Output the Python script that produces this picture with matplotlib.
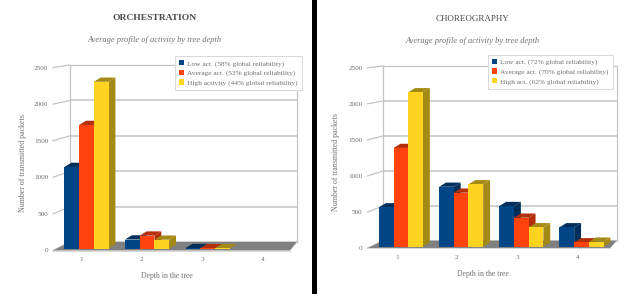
import matplotlib
matplotlib.use('Agg')
import matplotlib.pyplot as plt
from matplotlib.patches import Rectangle, ConnectionPatch

W, H = 627, 294
plt.rcParams['font.family'] = ['Liberation Serif', 'DejaVu Serif']

depths = [1, 2, 3, 4]
y_ticks = [0, 500, 1000, 1500, 2000, 2500]

orch_low = [1116, 125, 8, 0]
orch_avg = [1690, 178, 6, 0]
orch_high = [2280, 122, 6, 0]
orch_labels = ['Low act. (58% global reliability)',
               'Average act. (53% global reliability)',
               'High activity (44% global reliability)']

chor_low = [545, 830, 563, 269]
chor_avg = [1367, 748, 402, 61]
chor_high = [2138, 864, 269, 70]
chor_labels = ['Low act. (72% global reliability)',
               'Average act. (70% global reliability)',
               'High act. (62% global reliability)']

colors = ['#004586', '#ff420e', '#ffd320']
dark_colors = ['#002f5c', '#b32e0a', '#a38a14']
text_color = '#707070'
grid_color = '#c4c4c4'

fig = plt.figure(figsize=(W / 100, H / 100), dpi=100, facecolor='white')


def px_axes(left, top, right, bottom, zorder):
    return fig.add_axes([left / W, 1 - bottom / H, (right - left) / W, (bottom - top) / H],
                        zorder=zorder, facecolor='none')


def draw_chart(series, labels, title, bold, title_size, front, back, first_label, step, shift, base,
               title_pos, sub_pos, ylabel_pos, xlabel_pos, legend_pos):
    # back wall gets its own axes, the bars sit on the front plane
    ax_back = px_axes(*back, 1)
    ax_back.set_xlim(0, 1)
    ax_back.set_ylim(0, 2500)
    ax_back.set_xticks([])
    ax_back.set_yticks(y_ticks)
    ax_back.tick_params(length=0, labelleft=False)
    ax_back.grid(axis='y', color=grid_color, linewidth=1.1)
    ax_back.spines['bottom'].set_visible(False)
    for name in ['left', 'right', 'top']:
        ax_back.spines[name].set_color(grid_color)
        ax_back.spines[name].set_linewidth(0.9)

    ax = px_axes(*front, 2)
    ax.set_xlim(1 + (front[0] - first_label) / step, 1 + (front[2] - first_label) / step)
    ax.set_ylim(0, 2500)
    ax.set_xticks(depths)
    ax.set_yticks(y_ticks)
    ax.tick_params(length=0, labelsize=5.2, labelcolor=text_color)
    ax.tick_params(axis='y', pad=3.5)
    ax.tick_params(axis='x', pad=4.5)
    for spine in ax.spines.values():
        spine.set_visible(False)

    # side wall lines, front tick to back grid line
    for v in y_ticks:
        ax.add_artist(ConnectionPatch((0, v), (0, v), coordsA=ax.get_yaxis_transform(),
                                      coordsB=ax_back.get_yaxis_transform(),
                                      color=grid_color, linewidth=0.9))

    # floor
    to_front = ax.transData.inverted().transform
    x0, x1 = ax.get_xlim()
    bl = to_front(ax_back.transData.transform((0, 0)))
    br = to_front(ax_back.transData.transform((1, 0)))
    ax.fill([x0, x1, br[0], bl[0]], [0, 0, bl[1], bl[1]], color='#808080', lw=0,
            clip_on=False, zorder=1)
    ax.plot([x0, x1], [0, 0], color='#d8d8d8', lw=0.8, clip_on=False, zorder=1)

    bar_w = 14.7 / step
    dx = 6.9 / step
    dy = 58
    handles = []
    for i, values in enumerate(series):
        z = 2 + i
        lefts = [d + shift + (i - 1.5) * bar_w for d in depths]
        for left, v in zip(lefts, values):
            if v <= 0:
                continue
            right = left + bar_w
            top = base + v
            ax.fill([right, right + dx, right + dx, right], [base, base + dy, top + dy, top],
                    color=dark_colors[i], lw=0, zorder=z, clip_on=False)
            ax.fill([left, right, right + dx, left + dx], [top, top, top + dy, top + dy],
                    color=dark_colors[i], lw=0, zorder=z, clip_on=False)
        bars = ax.bar(lefts, values, width=bar_w, bottom=base, align='edge', color=colors[i],
                      zorder=z + 0.5, label=labels[i])
        handles.append(bars)

    leg = ax.legend(handles=handles, loc='upper left',
                    bbox_to_anchor=(legend_pos[0] / W, 1 - legend_pos[1] / H),
                    bbox_transform=fig.transFigure, borderaxespad=0, fontsize=5.3,
                    fancybox=False, framealpha=1, edgecolor='#d8d8d8', borderpad=0.55,
                    handlelength=0.75, handleheight=0.75, handletextpad=0.45, labelspacing=0.42,
                    labelcolor=text_color)
    leg.get_frame().set_linewidth(0.7)
    leg.set_zorder(20)

    fig.text(title_pos[0] / W, 1 - title_pos[1] / H, title, ha='center', va='center',
             fontsize=title_size, color='#4a4a4a', fontweight='bold' if bold else 'normal')
    fig.text(sub_pos[0] / W, 1 - sub_pos[1] / H, 'Average profile of activity by tree depth',
             ha='center', va='center', fontsize=6.05, style='italic', color=text_color)
    ax.set_xlabel('Depth in the tree', fontsize=5.6, color=text_color)
    ax.xaxis.set_label_coords(xlabel_pos[0] / W, 1 - xlabel_pos[1] / H, transform=fig.transFigure)
    ax.set_ylabel('Number of transmitted packets', fontsize=5.7, color=text_color)
    ax.yaxis.set_label_coords(ylabel_pos[0] / W, 1 - ylabel_pos[1] / H, transform=fig.transFigure)
    ax.xaxis.label.set_verticalalignment('center')
    ax.yaxis.label.set_verticalalignment('center')


draw_chart([orch_low, orch_avg, orch_high], orch_labels, 'ORCHESTRATION', True, 6.8,
           front=(53, 67.5, 290, 250.5), back=(70, 65, 297, 242), first_label=81, step=60.6,
           shift=0.09, base=25, title_pos=(155, 18.5), sub_pos=(155, 40.5), ylabel_pos=(23, 163),
           xlabel_pos=(166.5, 276), legend_pos=(174.5, 56))

draw_chart([chor_low, chor_avg, chor_high], chor_labels, 'CHOREOGRAPHY', False, 6.5,
           front=(367.3, 67.7, 610, 248.3), back=(383.3, 66, 616.7, 240.7), first_label=396.7, step=60.2,
           shift=0.07, base=22, title_pos=(473, 19), sub_pos=(473, 41), ylabel_pos=(336, 162),
           xlabel_pos=(482.7, 274), legend_pos=(487.5, 54.5))

# black divider between the two screenshots
fig.add_artist(Rectangle((312 / W, 0), 5 / W, 1, transform=fig.transFigure, color='black', lw=0))

fig.savefig('out.png', dpi=100)
